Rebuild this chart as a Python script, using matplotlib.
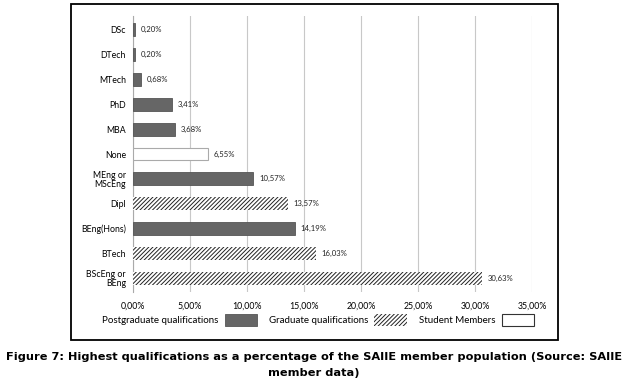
import matplotlib
matplotlib.use('Agg')
import matplotlib.pyplot as plt
from matplotlib.patches import Patch, Rectangle

categories = ['DSc', 'DTech', 'MTech', 'PhD', 'MBA', 'None', 'MEng or\nMScEng',
              'Dipl', 'BEng(Hons)', 'BTech', 'BScEng or\nBEng']
values = [0.20, 0.20, 0.68, 3.41, 3.68, 6.55, 10.57, 13.57, 14.19, 16.03, 30.63]
groups = ['post', 'post', 'post', 'post', 'post', 'student', 'post',
          'grad', 'post', 'grad', 'grad']
xticks = [0, 5, 10, 15, 20, 25, 30, 35]

plt.rcParams['font.family'] = ['Lato', 'DejaVu Sans']
plt.rcParams['hatch.linewidth'] = 0.7

fig = plt.figure(figsize=(6.28, 3.88), dpi=100)
ax = fig.add_axes([133 / 628, 1 - 292 / 388, 399 / 628, 276 / 388])

styles = {
    'post': dict(color='#666666', edgecolor='#555555', linewidth=0.6),
    'grad': dict(color='white', edgecolor='#222222', hatch='////////', linewidth=0),
    'student': dict(color='white', edgecolor='#aaaaaa', linewidth=0.8),
}

for i, (v, g) in enumerate(zip(values, groups)):
    ax.barh(i, v, height=0.52, zorder=3, **styles[g])
    ax.text(v + 0.5, i, f'{v:.2f}%'.replace('.', ','), va='center', ha='left',
            fontsize=5.6, color='#222222')

ax.set_yticks(range(len(categories)))
ax.set_yticklabels(categories, fontsize=6.3, linespacing=1.0)
ax.set_ylim(10.56, -0.56)
ax.set_xlim(0, 35)
ax.set_xticks(xticks)
ax.set_xticklabels([f'{t:.2f}%'.replace('.', ',') for t in xticks], fontsize=6.3)
ax.tick_params(length=0, pad=7)
ax.tick_params(axis='y', pad=5)
ax.grid(axis='x', color='#c8c8c8', linewidth=0.8, zorder=0)
for s in ['top', 'right', 'bottom']:
    ax.spines[s].set_visible(False)
ax.spines['left'].set_color('#aaaaaa')
ax.spines['left'].set_linewidth(0.8)

handles = [Patch(facecolor='#666666', edgecolor='#555555', linewidth=0.6),
           Patch(facecolor='white', edgecolor='#222222', hatch='////////', linewidth=0),
           Patch(facecolor='white', edgecolor='#333333', linewidth=0.8)]
fig.legend(handles, ['Postgraduate qualifications', 'Graduate qualifications', 'Student Members'],
           loc='center', bbox_to_anchor=(318 / 628, 1 - 320 / 388), ncol=3,
           markerfirst=False, frameon=False, fontsize=7.0, handlelength=3.3,
           handleheight=1.6, handletextpad=0.6, columnspacing=1.3)

fig.patches.append(Rectangle((71 / 628, 1 - 340 / 388), 487 / 628, 336 / 388,
                             transform=fig.transFigure, fill=False,
                             edgecolor='black', linewidth=1.3))

fig.text(0.5, 1 - 357 / 388, 'Figure 7: Highest qualifications as a percentage of the SAIIE member population (Source: SAIIE',
         ha='center', va='center', fontsize=8.2, fontweight='bold', family='DejaVu Sans')
fig.text(0.5, 1 - 373 / 388, 'member data)',
         ha='center', va='center', fontsize=8.2, fontweight='bold', family='DejaVu Sans')

fig.savefig('out.png', dpi=100)
